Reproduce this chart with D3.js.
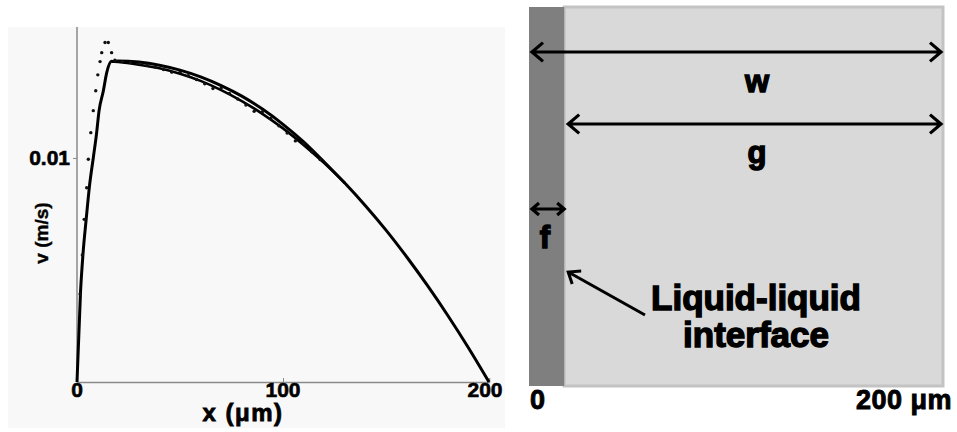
<!DOCTYPE html>
<html>
<head>
<meta charset="utf-8">
<script src="https://cdn.jsdelivr.net/npm/d3@7/dist/d3.min.js"></script>
<style>
  body { margin: 0; background: #fff; }
  text { font-family: "Liberation Sans", Arial, sans-serif; font-weight: bold; fill: #000; }
</style>
</head>
<body>
<svg id="chart" width="957" height="432"></svg>
<script>
// velocity profile, x in um, v in m/s
var solidTopX = [0, 1.7, 2.9, 4.5, 6.0, 7.9, 9.5, 10.7, 12.8, 14.4, 16.8, 17.5, 20, 30, 40, 50, 60, 70, 80, 90, 100, 110, 120, 130, 140, 150, 160, 170, 180, 190, 200];
var solidTopV = [0, 0.0040, 0.0057, 0.0073, 0.0087, 0.0100, 0.0111, 0.0121, 0.0130, 0.0138, 0.01432, 0.0143, 0.01433, 0.01428, 0.01414, 0.01392, 0.01362, 0.01323, 0.01276, 0.01218, 0.01150, 0.01072, 0.00982, 0.00888, 0.00787, 0.00678, 0.00559, 0.00432, 0.00297, 0.00153, 0];
var solidLowX = [17.5, 20, 30, 40, 50, 60, 70, 80, 90, 100, 110, 120, 130];
var solidLowV = [0.0143, 0.01428, 0.01416, 0.01400, 0.01376, 0.01344, 0.01303, 0.01254, 0.01197, 0.01132, 0.01058, 0.00977, 0.00888];
var dotX = [1.5, 2.6, 3.5, 4.7, 5.5, 6.7, 7.9, 9.1, 10.1, 11.2, 12.0, 13.6, 15.2, 16.8, 18.4, 22, 26, 30, 34, 38, 42, 46, 50, 54, 58, 62, 66, 70, 74, 78, 82, 86, 90, 94, 98, 102, 106, 110, 114, 118];
var dotV = [0.00393, 0.00567, 0.00726, 0.00867, 0.00994, 0.01113, 0.01211, 0.01300, 0.01371, 0.01430, 0.01470, 0.01515, 0.01515, 0.01470, 0.01436, 0.01430, 0.01426, 0.01421, 0.01414, 0.01405, 0.01395, 0.01383, 0.01383, 0.01367, 0.01350, 0.01331, 0.01310, 0.01312, 0.01288, 0.01263, 0.01236, 0.01208, 0.01206, 0.01176, 0.01144, 0.01111, 0.01076, 0.01064, 0.01028, 0.00993];
var xTicks = [0, 100, 200];
var yTicks = [0.01];

// schematic (right panel), widths in um
var channelW = 200;
var filmF = 17;
var schematicLabels = ["w", "g", "f"];
var interfaceLabel = ["Liquid-liquid", "interface"];
var schematicTicks = ["0", "200 \u03bcm"];

var svg = d3.select("#chart");

// ---- left panel: graph ----
var x = d3.scaleLinear().domain([0, 200]).range([77, 489]);
var y = d3.scaleLinear().domain([0, 0.0158]).range([382, 28]);

svg.append("rect")
    .attr("x", 8).attr("y", 27)
    .attr("width", 497).attr("height", 401)
    .attr("fill", "#f8f8f8");

svg.append("line")
    .attr("x1", x(0)).attr("x2", x(0))
    .attr("y1", y(0)).attr("y2", y.range()[1] - 1)
    .attr("stroke", "#8a8a8a").attr("stroke-width", 1.5);

var xAxis = svg.append("g")
    .attr("transform", "translate(0," + y(0) + ")")
    .call(d3.axisTop(x).tickValues(xTicks).tickSize(4).tickFormat(""));
xAxis.select(".domain").attr("stroke", "#8a8a8a").attr("stroke-width", 1.5);
xAxis.selectAll(".tick line").attr("stroke", "#8a8a8a");
xAxis.selectAll(".tick").filter(function (d) { return d !== 100; }).remove();

svg.selectAll(".xlab")
    .data(xTicks)
    .enter().append("text")
    .attr("class", "xlab")
    .attr("x", function (d) { return x(d) - (d === 200 ? 4 : 0); })
    .attr("y", 397)
    .attr("text-anchor", "middle")
    .style("font-size", "21px")
    .attr("stroke", "#000").attr("stroke-width", 0.6)
    .text(function (d) { return d; });

var yAxis = svg.append("g")
    .attr("transform", "translate(" + x(0) + ",0)")
    .call(d3.axisLeft(y).tickValues(yTicks).tickSize(4).tickFormat(""));
yAxis.select(".domain").remove();
yAxis.selectAll(".tick line").attr("stroke", "#8a8a8a");

svg.selectAll(".ylab")
    .data(yTicks)
    .enter().append("text")
    .attr("class", "ylab")
    .attr("x", 70)
    .attr("y", function (d) { return y(d) + 7; })
    .attr("text-anchor", "end")
    .style("font-size", "21px")
    .attr("stroke", "#000").attr("stroke-width", 0.6)
    .text(function (d) { return d; });

svg.append("text")
    .attr("transform", "translate(48,233) rotate(-90)")
    .attr("text-anchor", "middle")
    .style("font-size", "19px")
    .attr("stroke", "#000").attr("stroke-width", 0.4)
    .text("v (m/s)");

svg.append("text")
    .attr("x", 243).attr("y", 421)
    .attr("text-anchor", "middle")
    .style("font-size", "24px")
    .style("letter-spacing", "1.5px")
    .attr("stroke", "#000").attr("stroke-width", 0.8)
    .text("x (\u03bcm)");

var line = d3.line()
    .x(function (d) { return x(d[0]); })
    .y(function (d) { return y(d[1]); })
    .curve(d3.curveMonotoneX);

svg.append("path")
    .datum(d3.zip(solidLowX, solidLowV))
    .attr("fill", "none").attr("stroke", "#000").attr("stroke-width", 2.6)
    .attr("d", line);

svg.append("path")
    .datum(d3.zip(solidTopX, solidTopV))
    .attr("fill", "none").attr("stroke", "#000").attr("stroke-width", 3)
    .attr("stroke-linejoin", "round")
    .attr("d", line);

svg.selectAll(".dot")
    .data(d3.zip(dotX, dotV))
    .enter().append("circle")
    .attr("class", "dot")
    .attr("cx", function (d) { return x(d[0]); })
    .attr("cy", function (d) { return y(d[1]); })
    .attr("r", 1.7)
    .attr("fill", "#111");

// ---- right panel: schematic ----
var s = d3.scaleLinear().domain([0, channelW]).range([529, 943]);
var boxTop = 7, boxBottom = 386;

svg.append("rect")
    .attr("x", s(filmF)).attr("y", boxTop)
    .attr("width", s(channelW) - s(filmF)).attr("height", boxBottom - boxTop)
    .attr("fill", "#d9d9d9")
    .attr("stroke", "#c3c3c3").attr("stroke-width", 3);
svg.append("rect")
    .attr("x", s(0)).attr("y", boxTop)
    .attr("width", s(filmF) - s(0)).attr("height", boxBottom - boxTop)
    .attr("fill", "#7f7f7f");

function dblArrow(x1, x2, yy, h) {
    svg.append("path")
        .attr("d", "M" + x1 + "," + yy + "H" + x2 +
            "M" + (x1 + h) + "," + (yy - h * 0.85) + "L" + x1 + "," + yy + "L" + (x1 + h) + "," + (yy + h * 0.85) +
            "M" + (x2 - h) + "," + (yy - h * 0.85) + "L" + x2 + "," + yy + "L" + (x2 - h) + "," + (yy + h * 0.85))
        .attr("fill", "none").attr("stroke", "#000").attr("stroke-width", 3.2)
        .attr("stroke-linejoin", "miter");
}
dblArrow(s(0) + 3, s(channelW) - 2, 52, 11);
dblArrow(s(filmF) + 4, s(channelW) - 2, 124, 11);
dblArrow(s(0) + 3, s(filmF), 209, 7);

var labelPos = [[757, 92], [757, 163], [545, 248]];
svg.selectAll(".slab")
    .data(schematicLabels)
    .enter().append("text")
    .attr("class", "slab")
    .attr("x", function (d, i) { return labelPos[i][0]; })
    .attr("y", function (d, i) { return labelPos[i][1]; })
    .attr("text-anchor", "middle")
    .style("font-size", "31px")
    .attr("stroke", "#000").attr("stroke-width", 1.4)
    .text(function (d) { return d; });

svg.selectAll(".ilab")
    .data(interfaceLabel)
    .enter().append("text")
    .attr("class", "ilab")
    .attr("x", 756)
    .attr("y", function (d, i) { return 310 + i * 37; })
    .attr("text-anchor", "middle")
    .style("font-size", "35px")
    .attr("stroke", "#000").attr("stroke-width", 1.4)
    .text(function (d) { return d; });

// pointer to the interface
var tipX = s(filmF) + 4, tipY = 272;
svg.append("path")
    .attr("d", "M645,315L" + tipX + "," + tipY +
        "M" + (tipX + 4) + "," + (tipY + 12) + "L" + tipX + "," + tipY + "L" + (tipX + 13) + "," + (tipY - 1))
    .attr("fill", "none").attr("stroke", "#000").attr("stroke-width", 3);

svg.append("text")
    .attr("x", s(0) + 1).attr("y", 409)
    .style("font-size", "27px")
    .attr("stroke", "#000").attr("stroke-width", 0.9)
    .text(schematicTicks[0]);
svg.append("text")
    .attr("x", 952).attr("y", 409)
    .attr("text-anchor", "end")
    .style("font-size", "27px")
    .style("letter-spacing", "0.5px")
    .attr("stroke", "#000").attr("stroke-width", 0.9)
    .text(schematicTicks[1]);
</script>
</body>
</html>
